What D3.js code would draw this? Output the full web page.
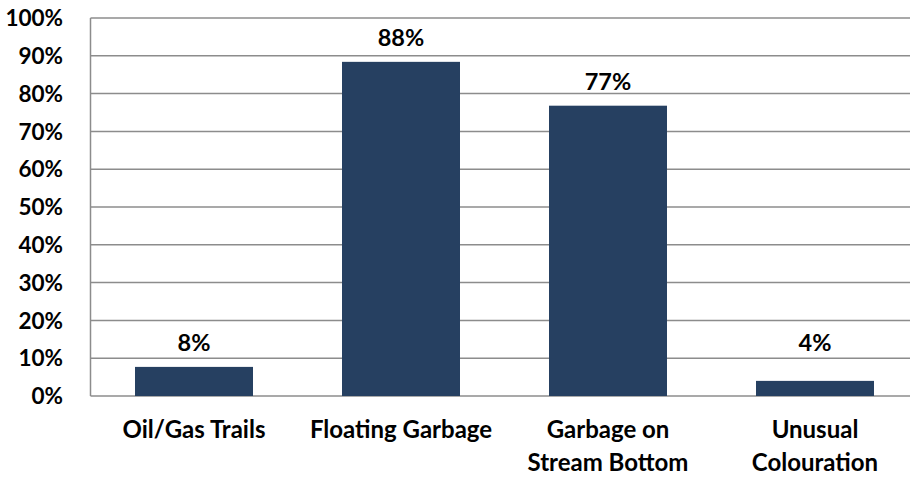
<!DOCTYPE html>
<html><head><meta charset="utf-8">
<script src="https://cdn.jsdelivr.net/npm/d3@7"></script>
<style>body{margin:0;background:#fff}text{font-family:Lato,"Open Sans",sans-serif;font-weight:700;fill:#000}</style>
</head><body><svg id="c" width="910" height="477"></svg>
<script>
const categories = [["Oil/Gas Trails"],["Floating Garbage"],["Garbage on","Stream Bottom"],["Unusual","Colouration"]];
const values = [7.7, 88.4, 76.8, 4.0];
const valueLabels = ["8%","88%","77%","4%"];
const yTicks = [0,10,20,30,40,50,60,70,80,90,100];

const svg = d3.select("#c");
const m = {left:90.5, right:918.5, top:18, bottom:396};
const x = d3.scaleBand().domain(d3.range(categories.length)).range([m.left,m.right]).paddingInner(0.43).paddingOuter(0.215);
const y = d3.scaleLinear().domain([0,100]).range([m.bottom,m.top]);

const g = svg.append("g");
g.selectAll("line.grid").data(yTicks).join("line")
  .attr("x1",m.left).attr("x2",m.right).attr("y1",d=>y(d)).attr("y2",d=>y(d))
  .attr("stroke","#8c8c8c").attr("stroke-width",1.5);
g.append("line").attr("x1",m.left).attr("x2",m.left).attr("y1",y(100)).attr("y2",y(0))
  .attr("stroke","#8c8c8c").attr("stroke-width",1.5);

g.selectAll("text.yt").data(yTicks).join("text")
  .attr("x",63).attr("y",d=>y(d)).attr("dy","0.36em").attr("text-anchor","end")
  .attr("font-size",22.5).text(d=>d+"%");

g.selectAll("text.vl").data(values).join("text")
  .attr("x",(d,i)=>x(i)+x.bandwidth()/2).attr("y",d=>y(Math.max(d,7.7))-16)
  .attr("text-anchor","middle").attr("font-size",23.5).text((d,i)=>valueLabels[i]);

g.selectAll("rect").data(values).join("rect")
  .attr("x",(d,i)=>x(i)).attr("width",x.bandwidth())
  .attr("y",d=>y(d)).attr("height",d=>y(0)-y(d)).attr("fill","#264061");

categories.forEach((lines,i)=>{
  const t = g.append("text").attr("x",x(i)+x.bandwidth()/2).attr("y",438)
    .attr("text-anchor","middle").attr("font-size",24);
  lines.forEach((l,j)=>t.append("tspan").attr("x",x(i)+x.bandwidth()/2).attr("dy",j?33:0).text(l));
});
</script></body></html>
